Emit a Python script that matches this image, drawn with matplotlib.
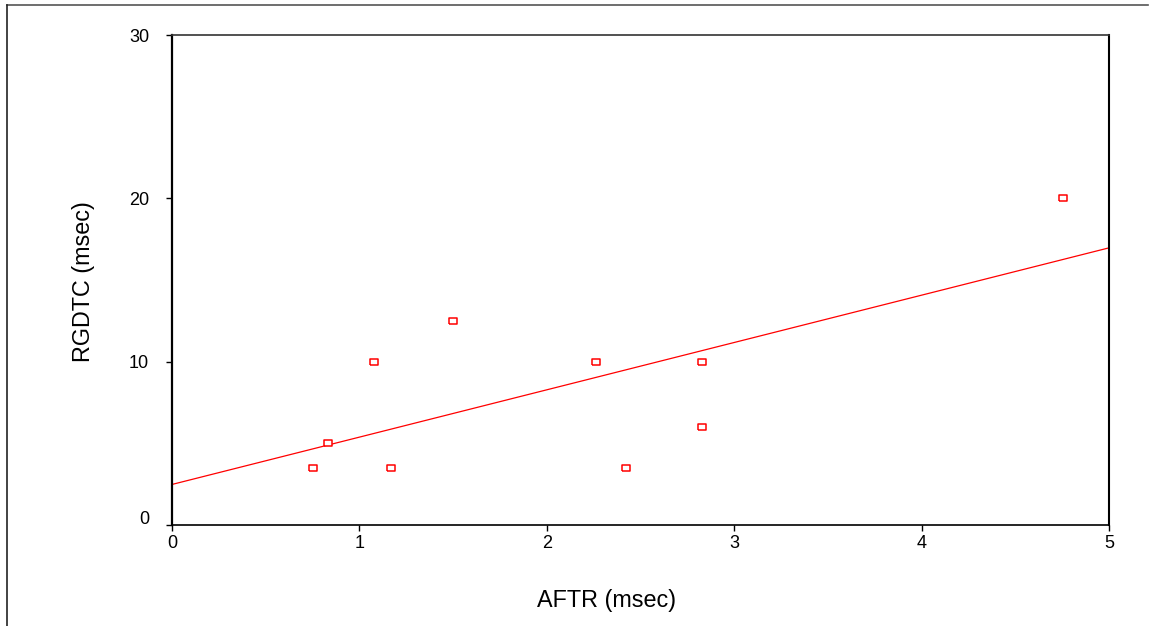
import numpy as np
import matplotlib
matplotlib.use("Agg")
import matplotlib.pyplot as plt
from matplotlib.lines import Line2D
from matplotlib.transforms import ScaledTranslation

plt.rcParams['font.family'] = ['Liberation Sans', 'DejaVu Sans']

# Data
aftr = [0.75, 0.83, 1.08, 1.17, 1.50, 2.26, 2.42, 2.83, 2.83, 4.755]
rgdtc = [3.5, 5.0, 10.0, 3.5, 12.5, 10.0, 3.5, 10.0, 6.0, 20.0]
x_ticks = [0, 1, 2, 3, 4, 5]
y_ticks = [0, 10, 20, 30]
x_label = "AFTR (msec)"
y_label = "RGDTC (msec)"

W, H, DPI = 1151, 626, 100
fig = plt.figure(figsize=(W / DPI, H / DPI), dpi=DPI)
L, R, T, B = 172, 1109, 35, 525
ax = fig.add_axes([L / W, 1 - B / H, (R - L) / W, (B - T) / H])

# regression line
slope, intercept = np.polyfit(aftr, rgdtc, 1)
xs = np.array([0, 5])
ax.plot(xs, intercept + slope * xs, color='#ff0000', lw=0.9, zorder=2)

rect = [(-1.5, -1), (1.5, -1), (1.5, 1), (-1.5, 1), (-1.5, -1)]
ax.plot(aftr, rgdtc, linestyle='none', marker=rect, markersize=6,
        markerfacecolor='white', markeredgecolor='#ff0000', markeredgewidth=1.1, zorder=3)

ax.set_xlim(0, 5)
ax.set_ylim(0, 30)
ax.set_xticks(x_ticks)
ax.set_yticks(y_ticks)
ax.set_xticklabels([str(v) for v in x_ticks])
ax.set_yticklabels([str(v) for v in y_ticks])
ax.tick_params(axis='both', direction='out', length=4.5, width=1, colors='black', labelsize=13)
ax.tick_params(axis='y', pad=12)
ax.tick_params(axis='x', pad=3)

ax.spines['left'].set_linewidth(1.6)
ax.spines['bottom'].set_linewidth(1.2)
ax.spines['right'].set_linewidth(1.5)
ax.spines['top'].set_linewidth(1.2)
ax.spines['top'].set_color('#333333')

# shift the y "0" label up slightly like the reference
ticks = ax.yaxis.get_major_ticks()
lab = ticks[0].label1
lab.set_transform(lab.get_transform() + ScaledTranslation(0, 8 / DPI, fig.dpi_scale_trans))

fig.text(606.5 / W, 1 - 607 / H, x_label, ha='center', va='baseline', fontsize=16.8)
fig.text(95 / W, 1 - 282 / H, y_label, ha='right', va='center', rotation=90, fontsize=16.8)

# outer frame (top and left)
fig.add_artist(Line2D([7 / W, 1148 / W], [1 - 5 / H, 1 - 5 / H], color='#555555', lw=1.2,
                      transform=fig.transFigure))
fig.add_artist(Line2D([7 / W, 7 / W], [1 - 5 / H, 0], color='#222222', lw=1.2,
                      transform=fig.transFigure))

fig.savefig('out.png', dpi=DPI)
